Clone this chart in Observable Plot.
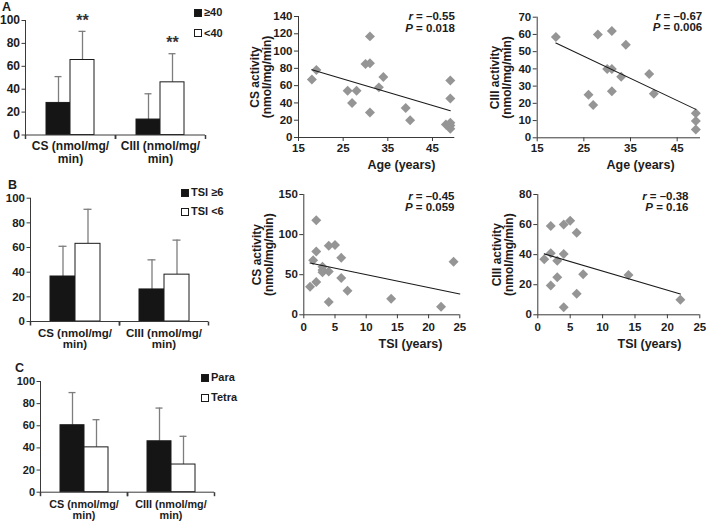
<!DOCTYPE html>
<html>
<head>
<meta charset="utf-8">
<script src="https://cdn.jsdelivr.net/npm/d3@7"></script>
<script src="https://cdn.jsdelivr.net/npm/@observablehq/plot@0.6"></script>
<style>
  body { margin: 0; background: #fff; }
  #fig { position: relative; width: 709px; height: 523px; background: #fff; overflow: hidden;
         font-family: "Liberation Sans", Arial, Helvetica, sans-serif; color: #1c1c1c; font-weight: bold; }
  .letter { position: absolute; font-size: 12.5px; line-height: 1; }
  .leg { position: absolute; font-size: 11px; line-height: 1; display: flex; align-items: center; white-space: nowrap; }
  .sq { display: inline-block; width: 6px; height: 6px; border: 1px solid #1a1a1a; margin-right: 2px; }
</style>
</head>
<body>
<div id="fig"></div>
<script>
// ---------- data ----------
const categories = ["CS", "CIII"];
const categoryLabels = ["CS (nmol/mg/\nmin)", "CIII (nmol/mg/\nmin)"];

// Panel A: age groups (order: CS g1, CS g2, CIII g1, CIII g2)
const ageGroups = ["≥40", "<40"];
const ageMeans = [28, 65.5, 13.5, 46];
const ageSD = [23, 25, 22.5, 25];
const ageSig = ["", "**", "", "**"];

// Panel B: time since injury groups
const tsiGroups = ["TSI ≥6", "TSI <6"];
const tsiMeans = [36.5, 63, 26, 38];
const tsiSD = [24.5, 28, 24, 28];

// Panel C: injury level groups
const levelGroups = ["Para", "Tetra"];
const levelMeans = [60.5, 40.5, 46, 25];
const levelSD = [29.5, 25, 30, 25.5];

// Scatter: CS vs age
const csAgeX = [18, 19, 26, 27, 28, 30, 31, 31, 31, 33, 34, 39, 40, 49, 49, 48, 49, 49, 49];
const csAgeY = [67, 78, 54, 40, 54, 85, 86, 117, 29, 58, 70, 34, 20, 66, 45, 15, 14, 10, 17];
const csAgeFitX = [18, 49];
const csAgeFitY = [78.5, 31];

// Scatter: CIII vs age
const ciiiAgeX = [19, 28, 31, 34, 30, 31, 33, 39, 26, 27, 31, 40, 49, 49, 49];
const ciiiAgeY = [58.5, 60, 62, 54, 40, 40, 35.5, 37, 25, 19, 27, 25.5, 14.3, 9.7, 4.8];
const ciiiAgeFitX = [19, 49];
const ciiiAgeFitY = [55, 16.5];

// Scatter: CS vs TSI
const csTsiX = [2, 2, 1.5, 4, 5, 6, 3, 4, 3, 6, 1, 2, 7, 4, 14, 22, 24, 3];
const csTsiY = [118, 79, 68, 86, 87, 71, 56, 54, 60, 46, 35, 41, 30, 16, 20, 10, 66, 53];
const csTsiFitX = [1, 25];
const csTsiFitY = [64.5, 26];

// Scatter: CIII vs TSI
const ciiiTsiX = [1, 2, 2, 2, 3, 3, 4, 4, 4, 5, 6, 6, 7, 14, 22];
const ciiiTsiY = [37, 59, 41, 19.5, 36, 25, 60, 40.5, 5, 62.5, 54.5, 14, 27, 26.5, 10];
const ciiiTsiFitX = [1, 22];
const ciiiTsiFitY = [40.5, 13.8];

// statistics text
const statR = ["r = –0.55", "r = –0.67", "r = –0.45", "r = –0.38"];
const statP = ["P = 0.018", "P = 0.006", "P = 0.059", "P = 0.16"];

// ---------- drawing ----------
const FONT = '"Liberation Sans", Arial, Helvetica, sans-serif';
const AX = "#3a3a3a";
const fig = document.getElementById("fig");

function place(el, left, top) {
  el.style.position = "absolute";
  el.style.left = left + "px";
  el.style.top = top + "px";
  fig.appendChild(el);
}

function barPanel(cfg) {
  const data = [];
  categories.forEach((c, i) => cfg.groups.forEach((g, j) => {
    const k = i * cfg.groups.length + j;
    data.push({cat: c, group: g, mean: cfg.means[k], hi: cfg.means[k] + cfg.sds[k], sig: cfg.sig ? cfg.sig[k] : ""});
  }));
  const tickSym = {draw(ctx) { ctx.moveTo(0, 0); ctx.lineTo(0, 4); }};
  const svg = Plot.plot({
    width: cfg.width, height: cfg.height,
    marginLeft: cfg.ml, marginRight: cfg.mr, marginTop: cfg.mt, marginBottom: cfg.mb,
    style: {fontFamily: FONT, fontWeight: "bold", fontSize: cfg.tickFont + "px", color: "#1c1c1c", background: "none", overflow: "visible"},
    fx: {domain: categories, padding: 0},
    x: {domain: cfg.groups, paddingInner: 0, paddingOuter: cfg.po, axis: null},
    y: {domain: [0, 100]},
    color: {domain: cfg.groups, range: ["#151515", "#ffffff"]},
    marks: [
      Plot.ruleX(data, {fx: "cat", x: "group", y1: "mean", y2: "hi", stroke: "#7d7d7d", strokeWidth: 1.3}),
      Plot.tickY(data, {fx: "cat", x: "group", y: "hi", stroke: "#7d7d7d", strokeWidth: 1.3, insetLeft: 8.5, insetRight: 8.5}),
      Plot.barY(data, {fx: "cat", x: "group", y: "mean", fill: "group", stroke: "#1a1a1a", strokeWidth: 1}),
      Plot.text(data, {fx: "cat", x: "group", y: "hi", text: "sig", dy: -11, fontSize: 16, fill: "#333"}),
      Plot.ruleY([0], {stroke: AX}),
      Plot.frame({anchor: "left", facetAnchor: "left", stroke: AX}),
      Plot.axisY({ticks: [0, 20, 40, 60, 80, 100], tickSize: 3.5, tickPadding: 2, label: null, stroke: AX}),
      Plot.axisFx({anchor: "bottom", tickSize: 0, tickPadding: cfg.labPad, label: null, fontSize: cfg.catFont, lineHeight: cfg.lh,
                   tickFormat: d => categoryLabels[categories.indexOf(d)]}),
      Plot.dot([0], {frameAnchor: "bottom-left", symbol: tickSym, r: 3, fill: "none", stroke: AX}),
      Plot.dot([0], {frameAnchor: "bottom-right", symbol: tickSym, r: 3, fill: "none", stroke: AX})
    ]
  });
  place(svg, cfg.left, cfg.top);
}

function italicize(svg) {
  svg.querySelectorAll("text").forEach(t => {
    const m = /^([rP])( = .*)$/.exec(t.textContent);
    if (m && t.children.length === 0) {
      t.textContent = "";
      const ts = document.createElementNS("http://www.w3.org/2000/svg", "tspan");
      ts.setAttribute("font-style", "italic");
      ts.textContent = m[1];
      t.appendChild(ts);
      t.appendChild(document.createTextNode(m[2]));
    }
  });
}

function scatter(cfg) {
  const pts = cfg.xs.map((x, i) => ({x, y: cfg.ys[i]}));
  const fit = cfg.fitX.map((x, i) => ({x, y: cfg.fitY[i]}));
  const svg = Plot.plot({
    width: cfg.width, height: cfg.height,
    marginLeft: cfg.ml, marginRight: cfg.mr, marginTop: cfg.mt, marginBottom: cfg.mb,
    style: {fontFamily: FONT, fontWeight: "bold", fontSize: "11.5px", color: "#1c1c1c", background: "none", overflow: "visible"},
    x: {domain: cfg.xDomain},
    y: {domain: cfg.yDomain},
    marks: [
      Plot.ruleY([cfg.yDomain[0]], {stroke: AX}),
      Plot.ruleX([cfg.xDomain[0]], {stroke: AX}),
      Plot.axisX({ticks: cfg.xTicks, tickSize: 4, tickPadding: cfg.xPad, label: null, stroke: AX}),
      Plot.axisY({ticks: cfg.yTicks, tickSize: 4, tickPadding: 2, label: null, stroke: AX}),
      Plot.dot(pts, {x: "x", y: "y", symbol: "diamond2", r: 4.5, fill: "#959595"}),
      Plot.line(fit, {x: "x", y: "y", stroke: "#1a1a1a", strokeWidth: 1.1}),
      Plot.text([cfg.r], {text: d => d, frameAnchor: "top-right", textAnchor: "end", lineAnchor: "middle", dx: cfg.sdx, dy: cfg.rdy - 0.3, fontSize: 11.5}),
      Plot.text([cfg.p], {text: d => d, frameAnchor: "top-right", textAnchor: "end", lineAnchor: "middle", dx: cfg.sdx, dy: cfg.rdy + 11.3, fontSize: 11.5}),
      Plot.text([cfg.xLabel], {text: d => d, frameAnchor: "bottom", textAnchor: "middle", lineAnchor: "middle", dx: cfg.xldx, dy: cfg.xldy, fontSize: 12.5}),
      Plot.text([cfg.yLabel], {text: d => d, frameAnchor: "left", rotate: -90, textAnchor: "middle", lineAnchor: "middle", dx: cfg.yldx, fontSize: 12, lineHeight: 1})
    ]
  });
  italicize(svg);
  place(svg, cfg.left, cfg.top);
}

// Bar panels
barPanel({groups: ageGroups, means: ageMeans, sds: ageSD, sig: ageSig,
  left: 0, top: 0, width: 215, height: 172, ml: 25, mr: 10, mt: 20, mb: 37.5, po: 0.84,
  tickFont: 12, catFont: 12, labPad: 6.5, lh: 1.05});
barPanel({groups: tsiGroups, means: tsiMeans, sds: tsiSD,
  left: 0, top: 170, width: 215, height: 182, ml: 30, mr: 7, mt: 27.7, mb: 31, po: 0.78,
  tickFont: 11.5, catFont: 11.5, labPad: 7, lh: 1});
barPanel({groups: levelGroups, means: levelMeans, sds: levelSD,
  left: 0, top: 355, width: 225, height: 168, ml: 39, mr: 11, mt: 26, mb: 31.3, po: 0.786,
  tickFont: 11, catFont: 10.8, labPad: 8, lh: 1});

// Scatter panels
scatter({xs: csAgeX, ys: csAgeY, fitX: csAgeFitX, fitY: csAgeFitY,
  xDomain: [15, 50], xTicks: [15, 25, 35, 45], yDomain: [0, 140], yTicks: d3.range(0, 141, 20),
  r: statR[0], p: statP[0], xLabel: "Age (years)", yLabel: "CS activity\n(nmol/mg/min)",
  left: 230, top: 0, width: 240, height: 172, ml: 68, mr: 15.7, mt: 16, mb: 35,
  xPad: 2, sdx: 0, rdy: 0.5, xldx: 24.8, xldy: 27, yldx: -37});
scatter({xs: ciiiAgeX, ys: ciiiAgeY, fitX: ciiiAgeFitX, fitY: ciiiAgeFitY,
  xDomain: [15, 50], xTicks: [15, 25, 35, 45], yDomain: [0, 70], yTicks: d3.range(0, 71, 10),
  r: statR[1], p: statP[1], xLabel: "Age (years)", yLabel: "CIII activity\n(nmol/mg/min)",
  left: 470, top: 0, width: 239, height: 172, ml: 66.7, mr: 9, mt: 16.7, mb: 34.7,
  xPad: 2, sdx: 1.7, rdy: -0.7, xldx: 21.7, xldy: 26.7, yldx: -35.7});
scatter({xs: csTsiX, ys: csTsiY, fitX: csTsiFitX, fitY: csTsiFitY,
  xDomain: [0, 25], xTicks: d3.range(0, 26, 5), yDomain: [0, 150], yTicks: [0, 50, 100, 150],
  r: statR[2], p: statP[2], xLabel: "TSI (years)", yLabel: "CS activity\n(nmol/mg/min)",
  left: 230, top: 170, width: 240, height: 182, ml: 73.3, mr: 10.7, mt: 24, mb: 37.7,
  xPad: 4.3, sdx: -5.3, rdy: 2, xldx: 28.7, xldy: 28.7, yldx: -40.8});
scatter({xs: ciiiTsiX, ys: ciiiTsiY, fitX: ciiiTsiFitX, fitY: ciiiTsiFitY,
  xDomain: [0, 25], xTicks: d3.range(0, 26, 5), yDomain: [0, 80], yTicks: d3.range(0, 81, 20),
  r: statR[3], p: statP[3], xLabel: "TSI (years)", yLabel: "CIII activity\n(nmol/mg/min)",
  left: 470, top: 170, width: 239, height: 182, ml: 67.3, mr: 9.7, mt: 24, mb: 37.7,
  xPad: 4.3, sdx: -11.3, rdy: 2, xldx: 30.7, xldy: 28.7, yldx: -35});

// Panel letters and legends (HTML)
function addLetter(txt, left, top) {
  const d = document.createElement("div");
  d.className = "letter"; d.textContent = txt;
  d.style.left = left + "px"; d.style.top = top + "px";
  fig.appendChild(d);
}
function addLegend(groups, left, tops) {
  groups.forEach((g, i) => {
    const d = document.createElement("div");
    d.className = "leg";
    d.style.left = left + "px"; d.style.top = (tops[i] - 6) + "px";
    const s = document.createElement("span");
    s.className = "sq";
    s.style.background = i === 0 ? "#151515" : "#fff";
    d.appendChild(s);
    d.appendChild(document.createTextNode(g));
    fig.appendChild(d);
  });
}
addLetter("A", 2, 1);
addLetter("B", 8, 179);
addLetter("C", 15, 362);
addLegend(ageGroups, 194, [13, 33.5]);
addLegend(tsiGroups, 181, [193, 212]);
addLegend(levelGroups, 201, [378, 398]);
</script>
</body>
</html>
